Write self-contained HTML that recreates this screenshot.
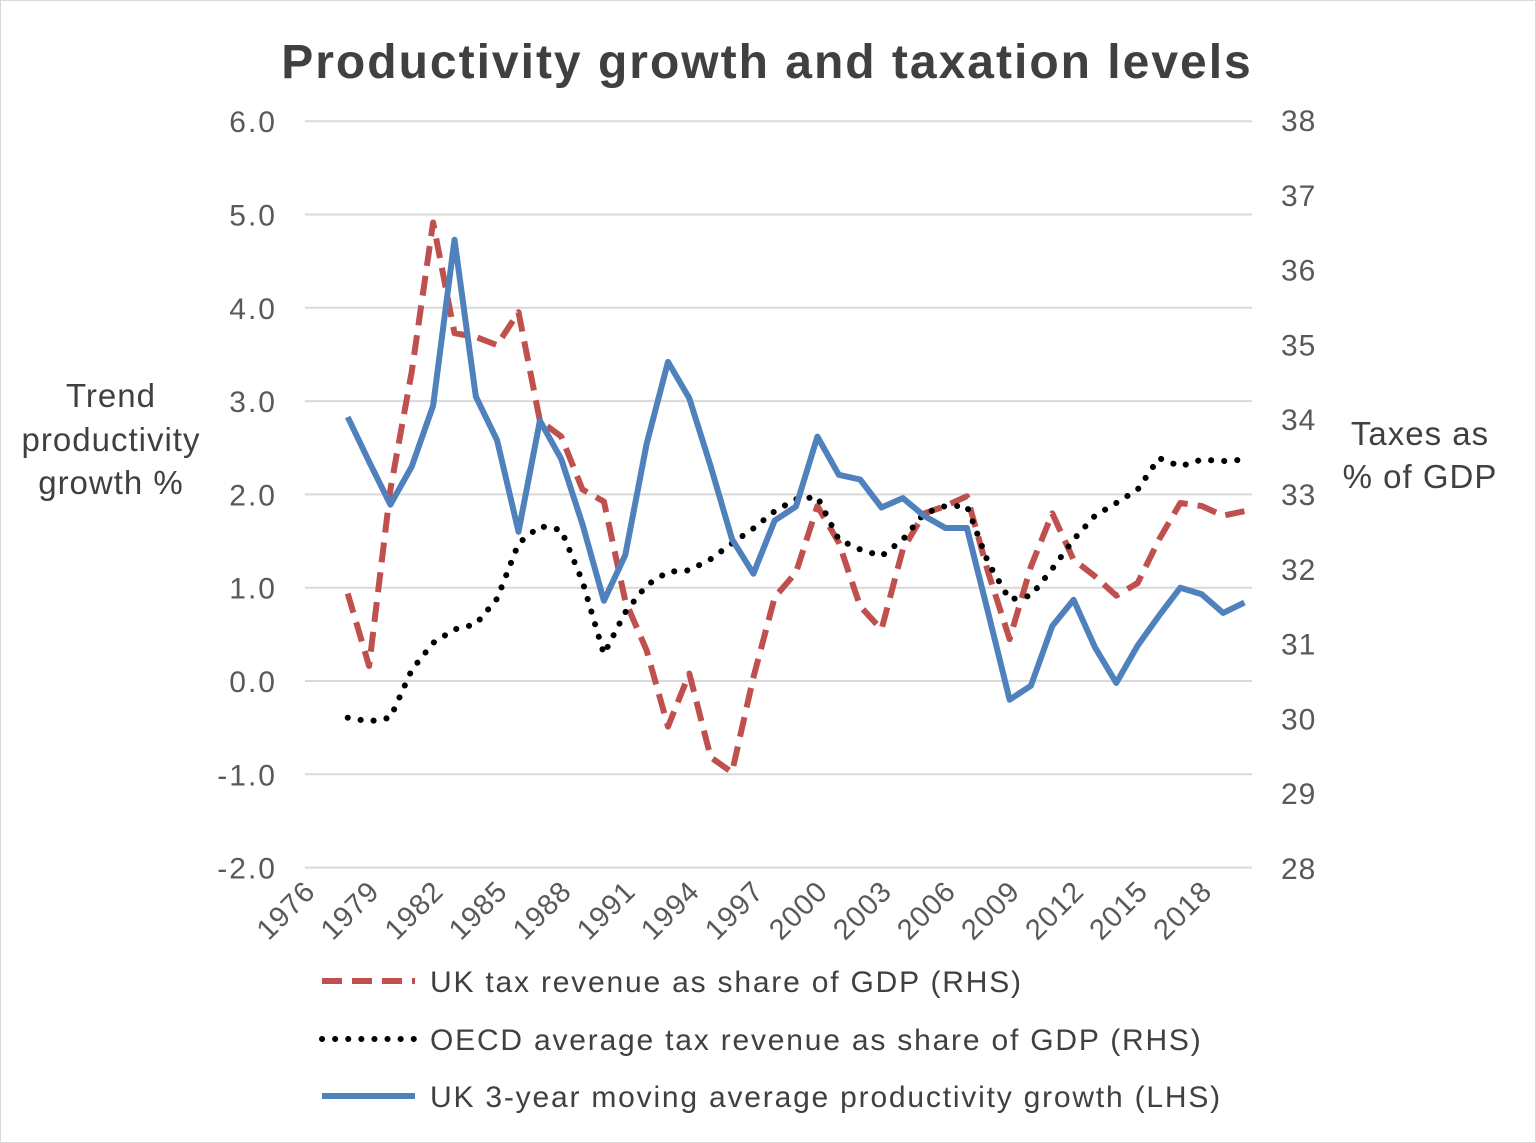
<!DOCTYPE html>
<html><head><meta charset="utf-8"><style>
body{margin:0;background:#fff;}
svg{display:block;font-family:"Liberation Sans",Arial,sans-serif;}
</style></head><body>
<svg id="chart" width="1536" height="1143" viewBox="0 0 1536 1143">
<rect x="0.5" y="0.5" width="1535" height="1142" fill="#fff" stroke="#d9d9d9"/>
<text x="767" y="78" text-anchor="middle" font-size="48" font-weight="bold" letter-spacing="2" fill="#404040">Productivity growth and taxation levels</text>
<g id="grid"></g>
<g id="ylabels"></g>
<g id="y2labels"></g>
<g id="xlabels"></g>
<g id="series"></g>
<text text-anchor="middle" font-size="33" letter-spacing="1" fill="#404040"><tspan x="111" y="407">Trend</tspan><tspan x="111" y="451">productivity</tspan><tspan x="111" y="494">growth %</tspan></text>
<text text-anchor="middle" font-size="33" letter-spacing="1" fill="#404040"><tspan x="1420" y="445">Taxes as</tspan><tspan x="1420" y="488">% of GDP</tspan></text>
<g>
<g><line x1="322" y1="981" x2="415" y2="981" stroke="#c0504d" stroke-width="6" stroke-dasharray="20,10"/><text x="430" y="992" font-size="30" letter-spacing="1.8" fill="#404040">UK tax revenue as share of GDP (RHS)</text></g>
<g><line x1="322" y1="1039" x2="415" y2="1039" stroke="#000" stroke-width="6" stroke-linecap="round" stroke-dasharray="0.1,13"/><text x="430" y="1050" font-size="30" letter-spacing="1.8" fill="#404040">OECD average tax revenue as share of GDP (RHS)</text></g>
<g><line x1="322" y1="1096" x2="415" y2="1096" stroke="#4f81bd" stroke-width="6"/><text x="430" y="1107" font-size="30" letter-spacing="1.8" fill="#404040">UK 3-year moving average productivity growth (LHS)</text></g>
</g>
</svg>
<script>
const years = [1978,1979,1980,1981,1982,1983,1984,1985,1986,1987,1988,1989,1990,1991,1992,1993,1994,1995,1996,1997,1998,1999,2000,2001,2002,2003,2004,2005,2006,2007,2008,2009,2010,2011,2012,2013,2014,2015,2016,2017,2018,2019,2020];
const ukProductivity = [2.83,2.35,1.89,2.3,2.95,4.73,3.05,2.58,1.6,2.79,2.38,1.68,0.86,1.35,2.54,3.42,3.03,2.3,1.52,1.15,1.72,1.87,2.62,2.21,2.16,1.86,1.96,1.77,1.64,1.64,0.73,-0.2,-0.05,0.59,0.87,0.36,-0.02,0.38,0.7,1.0,0.93,0.73,0.84];
const ukTax = [31.67,30.7,33.06,34.64,36.63,35.15,35.1,34.99,35.43,33.98,33.77,33.06,32.9,31.57,30.91,29.89,30.6,29.48,29.28,30.55,31.62,31.95,32.84,32.35,31.5,31.19,32.26,32.74,32.84,32.97,31.95,31.06,32.03,32.74,32.12,31.9,31.64,31.81,32.39,32.88,32.84,32.71,32.77];
const oecdTax = [30.01,29.96,30.01,30.65,31.01,31.19,31.26,31.6,32.34,32.57,32.52,31.83,30.86,31.42,31.78,31.96,31.98,32.13,32.34,32.54,32.77,32.93,32.96,32.39,32.26,32.17,32.39,32.74,32.84,32.84,32.08,31.59,31.64,32.0,32.39,32.71,32.88,33.06,33.48,33.37,33.46,33.44,33.46];
const leftTicks = ["6.0","5.0","4.0","3.0","2.0","1.0","0.0","-1.0","-2.0"];
const rightTicks = ["38","37","36","35","34","33","32","31","30","29","28"];
const xTickYears = [1976,1979,1982,1985,1988,1991,1994,1997,2000,2003,2006,2009,2012,2015,2018];

const NS="http://www.w3.org/2000/svg";
const X0=305, X1=1252;
const xs = y => 305 + (y-1976)*21.35;
const yL = v => 681 - v*93.3;
const yR = v => 120 + (38-v)*74.8;
function mk(tag, attrs, parent){const e=document.createElementNS(NS,tag);for(const k in attrs)e.setAttribute(k,attrs[k]);parent.appendChild(e);return e;}
const grid=document.getElementById('grid'), yl=document.getElementById('ylabels'), yr=document.getElementById('y2labels'), xl=document.getElementById('xlabels'), ser=document.getElementById('series');
leftTicks.forEach(t=>{
  const v=parseFloat(t), y=yL(v);
  const g=mk('line',{x1:X0,x2:X1,y1:y,y2:y,stroke:'#d9d9d9','stroke-width':2},grid);
  
  
  const tx=mk('text',{x:277,y:y+11,'text-anchor':'end','font-size':30,'letter-spacing':2,fill:'#595959'},yl);
  tx.textContent=t;
  
  
});
rightTicks.forEach(t=>{
  const y=yR(parseFloat(t));
  const tx=mk('text',{x:1281,y:y+11,'font-size':30,'letter-spacing':1,fill:'#595959'},yr);
  tx.textContent=t;
  
  
});
xTickYears.forEach(yr2=>{
  const x=xs(yr2);
  const tx=mk('text',{x:0,y:0,'text-anchor':'end','font-size':29,'letter-spacing':1,fill:'#595959',transform:`translate(${x+12},${893}) rotate(-45)`},xl);
  tx.textContent=String(yr2);
  
  
});
function path(vals, yf){return vals.map((v,i)=>(i?'L':'M')+xs(years[i]).toFixed(1)+','+yf(v).toFixed(1)).join(' ');}
const p1=mk('path',{d:path(ukTax,yR),fill:'none',stroke:'#c0504d','stroke-width':6,'stroke-dasharray':'20,10','stroke-linejoin':'round'},ser);


const p2=mk('path',{d:path(oecdTax,yR),fill:'none',stroke:'#000','stroke-width':6,'stroke-linecap':'round','stroke-dasharray':'0.1,13'},ser);


const p3=mk('path',{d:path(ukProductivity,yL),fill:'none',stroke:'#4f81bd','stroke-width':6,'stroke-linejoin':'round'},ser);


</script>
</body></html>
